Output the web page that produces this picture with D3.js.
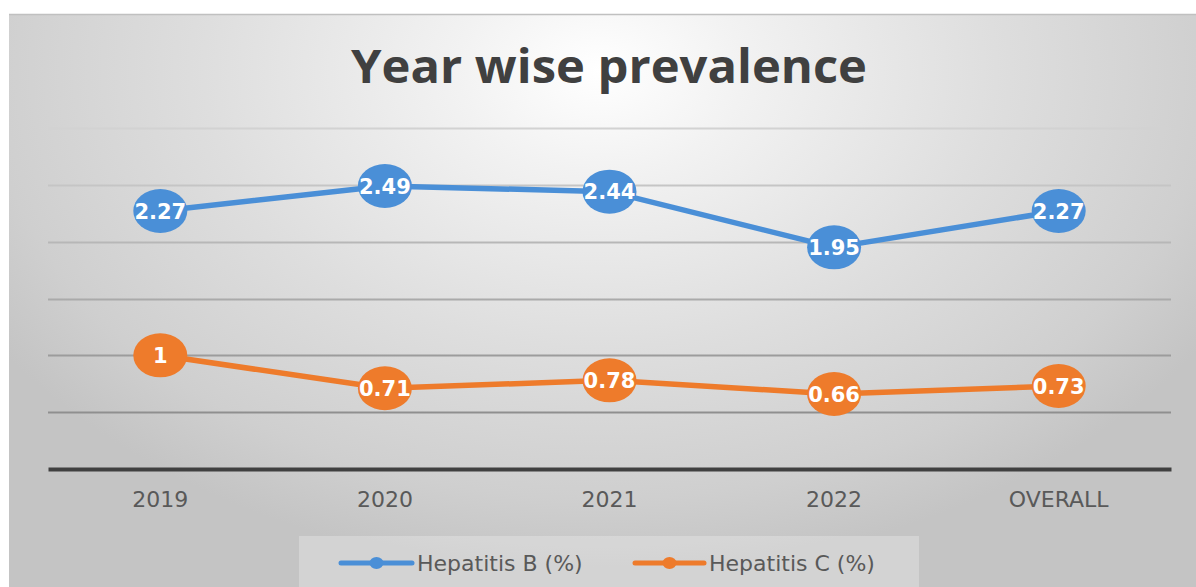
<!DOCTYPE html>
<html><head><meta charset="utf-8">
<script src="https://cdn.jsdelivr.net/npm/d3@7"></script>
<style>html,body{margin:0;padding:0;background:#fff;overflow:hidden}</style>
</head><body>
<svg id="c" width="1196" height="587"></svg>
<script>
const categories = ["2019", "2020", "2021", "2022", "OVERALL"];
const hepB = [2.27, 2.49, 2.44, 1.95, 2.27];
const hepC = [1, 0.71, 0.78, 0.66, 0.73];
const seriesNames = ["Hepatitis B (%)", "Hepatitis C (%)"];
const yTicks = [0, 0.5, 1, 1.5, 2, 2.5, 3];
const titleText = "Year wise prevalence";

const svg = d3.select("#c");
const defs = svg.append("defs");
const rg = defs.append("radialGradient").attr("id","bg")
  .attr("gradientUnits","userSpaceOnUse")
  .attr("cx",600).attr("cy",70).attr("r",720)
  .attr("gradientTransform","translate(600,70) scale(1,0.7) translate(-600,-70)");
rg.append("stop").attr("offset","0").attr("stop-color","#ffffff");
rg.append("stop").attr("offset","0.2").attr("stop-color","#f2f2f2");
rg.append("stop").attr("offset","0.55").attr("stop-color","#dedede");
rg.append("stop").attr("offset","0.85").attr("stop-color","#cfcfcf");
rg.append("stop").attr("offset","1").attr("stop-color","#c4c4c4");

svg.append("rect").attr("x",9).attr("y",14).attr("width",1196).attr("height",587)
  .attr("fill","url(#bg)");
svg.append("line").attr("x1",9).attr("x2",1196).attr("y1",14.5).attr("y2",14.5)
  .attr("stroke","#c0c0c0").attr("stroke-width",1.5);

const x = d3.scaleBand().domain(categories).range([48, 1171]);
const y = d3.scaleLinear().domain([0, 3]).range([469, 128]);
const cx = d => x(d) + x.bandwidth()/2;

// title
svg.append("text").attr("x", 609).attr("y", 83).attr("text-anchor","middle")
  .attr("font-family","Open Sans").attr("font-weight",700).attr("font-size",46)
  .attr("textLength",516).attr("lengthAdjust","spacingAndGlyphs")
  .attr("fill","#404040").text(titleText);

// gridlines
const gridColor = d3.scaleLinear().domain([3, 0.5]).range(["#d2d2d2", "#8f8f8f"]);
svg.append("g").selectAll("line").data(yTicks.filter(t => t > 0)).join("line")
  .attr("x1", 48).attr("x2", 1171)
  .attr("y1", d => Math.round(y(d)) + 0.5).attr("y2", d => Math.round(y(d)) + 0.5)
  .attr("stroke", d => gridColor(d)).attr("stroke-width", 2);

// x axis
const xAxis = svg.append("g").attr("transform", `translate(0,${y(0)})`)
  .call(d3.axisBottom(x).tickSize(0).tickPadding(22));
xAxis.select(".domain").attr("stroke","#404040").attr("stroke-width",4);
xAxis.selectAll("text").attr("font-family","DejaVu Sans").attr("font-size",22)
  .attr("fill","#595959");

const series = [
  {name: seriesNames[0], values: hepB, color: "#4a8fd7"},
  {name: seriesNames[1], values: hepC, color: "#ee7b2b"}
];
const line = d3.line().x((d,i) => cx(categories[i])).y(d => y(d));
series.forEach(s => {
  const g = svg.append("g");
  g.append("path").attr("d", line(s.values)).attr("fill","none")
    .attr("stroke", s.color).attr("stroke-width", 5.5).attr("stroke-linejoin","round");
  g.selectAll("ellipse").data(s.values).join("ellipse")
    .attr("cx", (d,i) => cx(categories[i])).attr("cy", d => y(d))
    .attr("rx", 27).attr("ry", 22).attr("fill", s.color);
  g.selectAll("text").data(s.values).join("text")
    .attr("x", (d,i) => cx(categories[i])).attr("y", d => y(d))
    .attr("dy","0.36em").attr("text-anchor","middle")
    .attr("font-family","DejaVu Sans").attr("font-weight","bold").attr("font-size",21)
    .attr("fill","#ffffff").text(d => String(d));
});

// legend
const lg = svg.append("g");
lg.append("rect").attr("x",299).attr("y",536).attr("width",620).attr("height",60)
  .attr("fill","#ffffff").attr("fill-opacity",0.25);
const legendPos = [{x1:341, x2:412, tx:417}, {x1:635, x2:704, tx:709}];
series.forEach((s,i) => {
  const p = legendPos[i];
  lg.append("line").attr("x1",p.x1).attr("x2",p.x2).attr("y1",563).attr("y2",563)
    .attr("stroke",s.color).attr("stroke-width",5).attr("stroke-linecap","round");
  lg.append("ellipse").attr("cx",(p.x1+p.x2)/2).attr("cy",563).attr("rx",7).attr("ry",6)
    .attr("fill",s.color);
  lg.append("text").attr("x",p.tx).attr("y",563).attr("dy","0.35em")
    .attr("font-family","DejaVu Sans").attr("font-size",22).attr("fill","#595959")
    .text(s.name);
});
</script>
</body></html>
